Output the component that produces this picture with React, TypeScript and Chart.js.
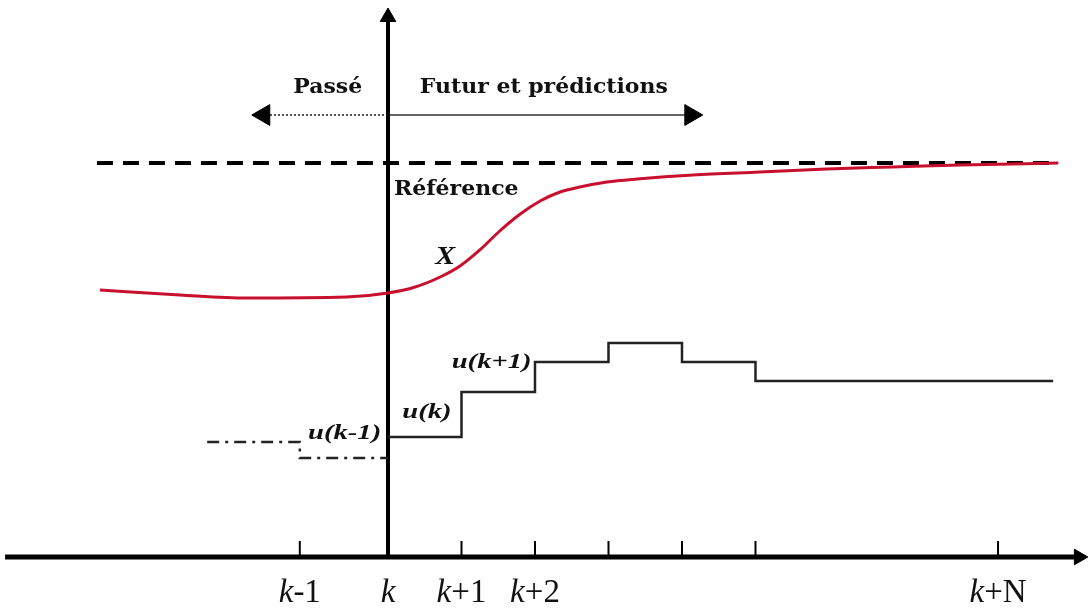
import React, { useEffect, useRef } from "react";
import { Chart, registerables } from "chart.js";

Chart.register(...registerables);

// Time axis, in sampling steps (k = 0)
const tickSteps = [-1.2, 0, 1, 2, 3, 4, 5, 8.3];
const tickLabels = ["k-1", "k", "k+1", "k+2", "", "", "", "k+N"];

// Output X (past + predicted)
const outputSteps = [-3.92, -2.83, -1.92, -0.56, 0, 0.37, 0.71, 0.98, 1.25, 1.52, 1.8, 2.07, 2.34, 2.61, 2.98, 3.39, 4.15, 5.06, 5.97, 6.87, 7.78, 9.12];
const outputValues = [2.67, 2.62, 2.59, 2.6, 2.64, 2.7, 2.8, 2.91, 3.07, 3.26, 3.43, 3.56, 3.65, 3.7, 3.75, 3.78, 3.82, 3.85, 3.88, 3.9, 3.92, 3.94];

// Reference
const referenceValue = 3.94;
const referenceSteps = [-3.96, 9.12];

// Future control moves u(k), u(k+1), ...
const controlSteps = [0, 1, 2, 3, 4, 5, 9.05];
const controlValues = [1.2, 1.65, 1.95, 2.14, 1.95, 1.76, 1.76];

// Past control moves
const pastSteps = [-2.46, -1.2, 0];
const pastValues = [1.15, 0.99, 0.99];

// Axis extents
const X_MIN = -5.279;
const X_MAX = 9.524;
const Y_MIN = -0.57;
const Y_MAX = 5.57;

const SLAB = "'DejaVu Serif', serif";
const TIMES = "'Liberation Serif', 'Times New Roman', serif";

const annotations = [
  { text: "Passé", x: -0.82, y: 4.69, font: `bold 20px ${SLAB}`, align: "center", sx: 1.1 },
  { text: "Futur et prédictions", x: 2.12, y: 4.69, font: `bold 20px ${SLAB}`, align: "center", sx: 1.1 },
  { text: "Référence", x: 0.08, y: 3.67, font: `bold 20px ${SLAB}`, align: "left", sx: 1.1 },
  { text: "X", x: 0.78, y: 3.0, font: `italic bold 26px ${TIMES}`, align: "center", sx: 1.15 },
  { text: "u(k-1)", x: -0.59, y: 1.24, font: `italic bold 22px ${TIMES}`, align: "center", sx: 1.3 },
  { text: "u(k)", x: 0.53, y: 1.45, font: `italic bold 22px ${TIMES}`, align: "center", sx: 1.3 },
  { text: "u(k+1)", x: 1.41, y: 1.95, font: `italic bold 22px ${TIMES}`, align: "center", sx: 1.3 },
];

const textPlugin = {
  id: "diagramText",
  afterDatasetsDraw(chart: any) {
    const ctx = chart.ctx as CanvasRenderingContext2D;
    const xs = chart.scales.x;
    const ys = chart.scales.y;
    ctx.save();
    ctx.fillStyle = "#111";
    ctx.textBaseline = "middle";
    for (const a of annotations) {
      ctx.save();
      ctx.font = a.font;
      ctx.textAlign = a.align as CanvasTextAlign;
      ctx.translate(xs.getPixelForValue(a.x), ys.getPixelForValue(a.y));
      ctx.scale(a.sx, 1);
      ctx.fillText(a.text, 0, 0);
      ctx.restore();
    }
    // tick labels: italic k + regular suffix
    const labelY = ys.getPixelForValue(-0.45);
    const italic = `italic 33px ${TIMES}`;
    const regular = `33px ${TIMES}`;
    ctx.textAlign = "left";
    ctx.textBaseline = "alphabetic";
    tickSteps.forEach((t, i) => {
      const lab = tickLabels[i];
      if (!lab) return;
      const head = lab.charAt(0);
      const tail = lab.slice(1);
      ctx.font = italic;
      const w1 = ctx.measureText(head).width;
      ctx.font = regular;
      const w2 = ctx.measureText(tail).width;
      const cx = xs.getPixelForValue(t);
      const start = cx - (w1 + w2) / 2;
      ctx.font = italic;
      ctx.fillText(head, start, labelY);
      ctx.font = regular;
      ctx.fillText(tail, start + w1, labelY);
    });
    ctx.restore();
  },
};

const pts = (xs: number[], ys: number[]) => xs.map((x, i) => ({ x, y: ys[i] }));

export default function App() {
  const ref = useRef<HTMLCanvasElement | null>(null);

  useEffect(() => {
    if (!ref.current) return;
    const tickPts = tickSteps.filter((t) => t !== 0).map((t) => ({ x: t, y: 0.08 }));

    const chart = new Chart(ref.current, {
      type: "line",
      data: {
        datasets: [
          {
            label: "X",
            data: pts(outputSteps, outputValues),
            borderColor: "#c8102e",
            borderWidth: 3,
            pointRadius: 0,
            cubicInterpolationMode: "monotone",
            order: 0,
          },
          {
            label: "Référence",
            data: referenceSteps.map((x) => ({ x, y: referenceValue })),
            borderColor: "#000",
            borderWidth: 4,
            borderDash: [16, 10],
            pointRadius: 0,
            order: 1,
          },
          {
            label: "u futur",
            data: pts(controlSteps, controlValues),
            borderColor: "#222",
            borderWidth: 2.5,
            stepped: "before",
            pointRadius: 0,
            order: 2,
          },
          {
            label: "u passé",
            data: pts(pastSteps, pastValues),
            borderColor: "#222",
            borderWidth: 2.5,
            borderDash: [12, 6, 3, 6],
            stepped: "before",
            pointRadius: 0,
            order: 3,
          },
          {
            label: "axe temps",
            data: [{ x: -5.21, y: 0 }, { x: 9.4, y: 0 }],
            borderColor: "#000",
            borderWidth: 5,
            pointRadius: [0, 9],
            pointStyle: "triangle",
            pointRotation: 90,
            pointBackgroundColor: "#000",
            pointBorderColor: "#000",
            pointBorderWidth: 1,
            order: 4,
          },
          {
            label: "axe vertical",
            data: [{ x: 0, y: 0 }, { x: 0, y: 5.4 }],
            borderColor: "#000",
            borderWidth: 4,
            pointRadius: [0, 9],
            pointStyle: "triangle",
            pointRotation: 0,
            pointBackgroundColor: "#000",
            pointBorderColor: "#000",
            pointBorderWidth: 1,
            order: 5,
          },
          {
            label: "graduations",
            data: tickPts,
            showLine: false,
            pointStyle: "line",
            pointRotation: 90,
            pointRadius: 8,
            pointBorderWidth: 2,
            pointBorderColor: "#000",
            borderColor: "#000",
            order: 6,
          },
          {
            label: "passé",
            data: [{ x: 0, y: 4.42 }, { x: -1.69, y: 4.42 }],
            borderColor: "#555",
            borderWidth: 2,
            borderDash: [2, 2],
            pointRadius: [0, 12],
            pointStyle: "triangle",
            pointRotation: 270,
            pointBackgroundColor: "#000",
            pointBorderColor: "#000",
            pointBorderWidth: 1,
            order: 7,
          },
          {
            label: "futur",
            data: [{ x: 0, y: 4.42 }, { x: 4.12, y: 4.42 }],
            borderColor: "#333",
            borderWidth: 1.5,
            pointRadius: [0, 12],
            pointStyle: "triangle",
            pointRotation: 90,
            pointBackgroundColor: "#000",
            pointBorderColor: "#000",
            pointBorderWidth: 1,
            order: 8,
          },
        ],
      },
      options: {
        animation: false,
        responsive: false,
        maintainAspectRatio: false,
        layout: { padding: 0, autoPadding: false },
        plugins: {
          legend: { display: false },
          tooltip: { enabled: false },
        },
        scales: {
          x: { type: "linear", min: X_MIN, max: X_MAX, display: false },
          y: { type: "linear", min: Y_MIN, max: Y_MAX, display: false },
        },
      },
      plugins: [textPlugin],
    } as any);
    return () => chart.destroy();
  }, []);

  return (
    <div style={{ position: "absolute", left: 0, top: 0, width: 1088, height: 614, background: "#fff" }}>
      <canvas ref={ref} width={1088} height={614} style={{ display: "block", width: 1088, height: 614 }} />
    </div>
  );
}
